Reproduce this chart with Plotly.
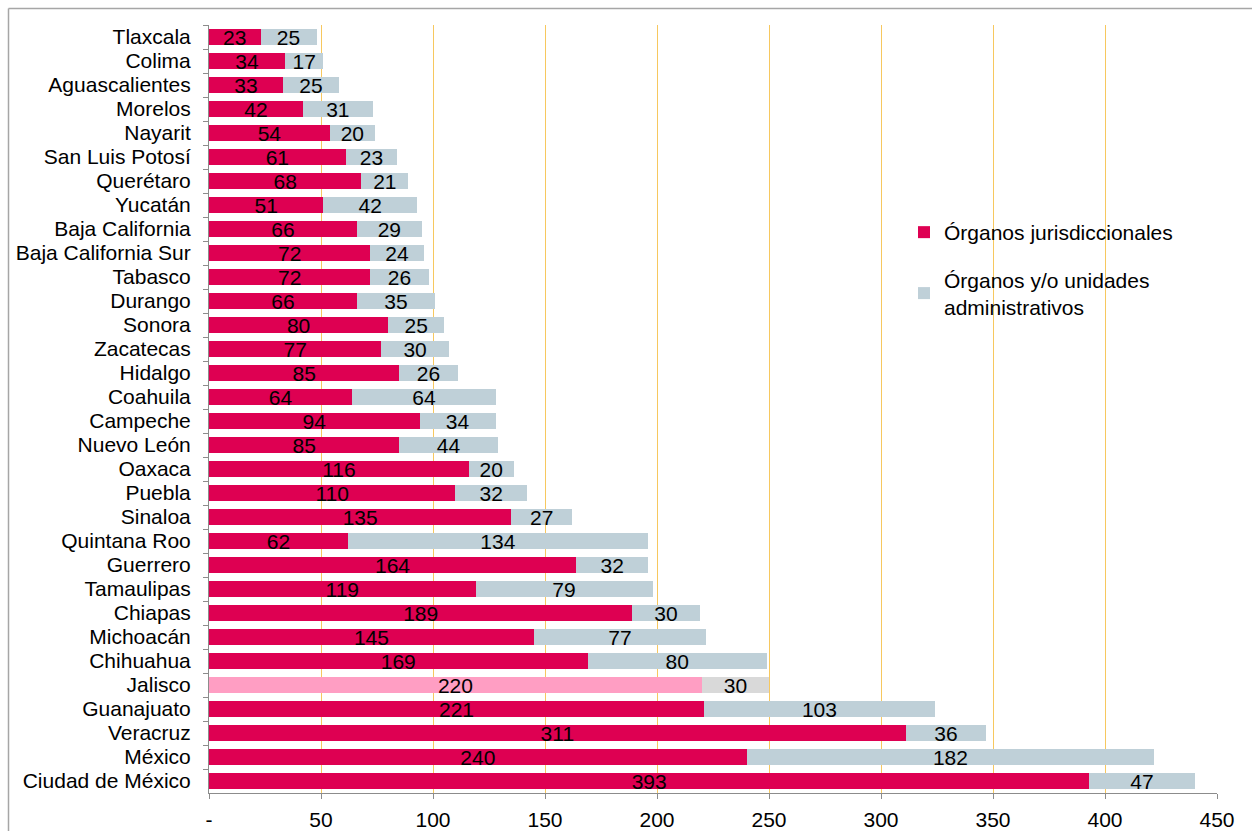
import plotly.graph_objects as go

states = ["Tlaxcala", "Colima", "Aguascalientes", "Morelos", "Nayarit", "San Luis Potosí",
          "Querétaro", "Yucatán", "Baja California", "Baja California Sur", "Tabasco", "Durango",
          "Sonora", "Zacatecas", "Hidalgo", "Coahuila", "Campeche", "Nuevo León", "Oaxaca",
          "Puebla", "Sinaloa", "Quintana Roo", "Guerrero", "Tamaulipas", "Chiapas", "Michoacán",
          "Chihuahua", "Jalisco", "Guanajuato", "Veracruz", "México", "Ciudad de México"]
jurisdiccionales = [23, 34, 33, 42, 54, 61, 68, 51, 66, 72, 72, 66, 80, 77, 85, 64, 94, 85, 116,
                    110, 135, 62, 164, 119, 189, 145, 169, 220, 221, 311, 240, 393]
administrativos = [25, 17, 25, 31, 20, 23, 21, 42, 29, 24, 26, 35, 25, 30, 26, 64, 34, 44, 20,
                   32, 27, 134, 32, 79, 30, 77, 80, 30, 103, 36, 182, 47]
highlight = "Jalisco"
x_ticks = [0, 50, 100, 150, 200, 250, 300, 350, 400, 450]
x_ticktext = ["-", "50", "100", "150", "200", "250", "300", "350", "400", "450"]

RED, RED_HI = "#DE0052", "#FF9EC3"
GRAY, GRAY_HI = "#BFD0D8", "#D9D9D9"
GRID = "rgb(247,200,95)"
FONT = "Liberation Sans, Arial, sans-serif"
FS = 21

c1 = [RED_HI if s == highlight else RED for s in states]
c2 = [GRAY_HI if s == highlight else GRAY for s in states]

fig = go.Figure()
fig.add_trace(go.Bar(
    y=states, x=jurisdiccionales, orientation="h", name="Órganos jurisdiccionales",
    marker=dict(color=c1, line=dict(width=0)), texttemplate="%{x}",
    textposition="inside", insidetextanchor="middle",
    textfont=dict(color="black", size=FS, family=FONT), legendgroup="a",
))
fig.add_trace(go.Bar(
    y=states, x=administrativos, orientation="h",
    name="Órganos y/o unidades<br>administrativos",
    marker=dict(color=c2, line=dict(width=0)), texttemplate="%{x}",
    textposition="inside", insidetextanchor="middle",
    textfont=dict(color="black", size=FS, family=FONT), legendgroup="b",
))

L, R, T, B = 209, 35, 25, 38
W, H = 1252, 831
pw, ph = W - L - R, H - T - B

fig.update_layout(
    template="none",
    width=W, height=H, barmode="stack", bargap=0.35,
    margin=dict(l=L, r=R, t=T, b=B, pad=0, autoexpand=False),
    paper_bgcolor="white", plot_bgcolor="white",
    font=dict(family=FONT, size=FS, color="black"),
    uniformtext=dict(minsize=FS, mode="show"),
    showlegend=True,
    legend=dict(x=(904 - L) / pw, y=(H - B - 212) / ph, xanchor="left", yanchor="top",
                traceorder="grouped", tracegroupgap=17, bgcolor="rgba(0,0,0,0)",
                font=dict(size=FS, family=FONT, color="black")),
    xaxis=dict(range=[0, 450], tickmode="array", tickvals=x_ticks, ticktext=x_ticktext,
               showgrid=True, gridcolor=GRID, gridwidth=1.2, zeroline=False, showline=True,
               linecolor="#8C8C8C", linewidth=1, ticks="outside", ticklen=5,
               tickcolor="#8C8C8C", ticklabelstandoff=3, automargin=False,
               tickfont=dict(size=FS, family=FONT, color="black")),
    yaxis=dict(categoryorder="array", categoryarray=states, autorange="reversed",
               tickmode="linear", dtick=1,
               showline=True, linecolor="#8C8C8C", linewidth=1, ticks="outside",
               tickson="boundaries", ticklen=5, tickcolor="#8C8C8C", showgrid=False,
               ticklabelstandoff=13, automargin=False,
               tickfont=dict(size=FS, family=FONT, color="black")),
)

# outer chart frame: top and left edges are visible in the crop
fx0 = (8.5 - L) / pw
fy1 = (H - B - 8.5) / ph
fig.add_shape(type="line", xref="paper", yref="paper", x0=fx0, x1=(W + 10 - L) / pw,
              y0=fy1, y1=fy1, line=dict(color="#A6A6A6", width=1.5))
fig.add_shape(type="line", xref="paper", yref="paper", x0=fx0, x1=fx0,
              y0=(H - B - (H + 10)) / ph, y1=fy1, line=dict(color="#A6A6A6", width=1.5))

fig.write_html("out.html", config={"displayModeBar": False},
               post_script="document.body.style.margin='0';document.body.style.padding='0';")
